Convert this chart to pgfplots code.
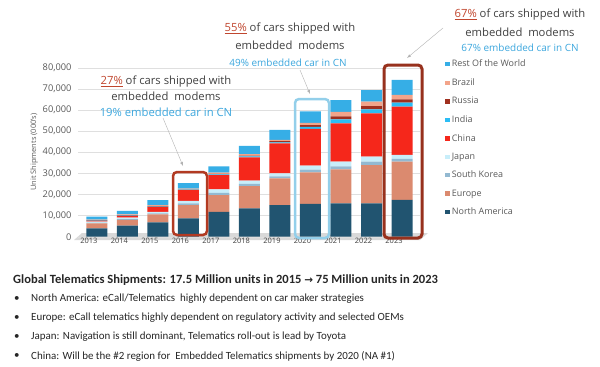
\documentclass[border=0pt]{standalone}
\usepackage{pgfplots}
\usepackage{pgfplotstable}
\pgfplotsset{compat=1.18}
\usepackage{fontspec}
\setmainfont{Open Sans}
\newfontfamily\carlito{Carlito}
\newfontfamily\dejavu{DejaVu Sans}
\definecolor{cNA}{HTML}{215470}
\definecolor{cEU}{HTML}{DB8A6F}
\definecolor{cSK}{HTML}{93B9D1}
\definecolor{cJP}{HTML}{C8EEFA}
\definecolor{cCN}{HTML}{F5271B}
\definecolor{cIN}{HTML}{2BBDF5}
\definecolor{cRU}{HTML}{A0301F}
\definecolor{cBR}{HTML}{F3A48A}
\definecolor{cRW}{HTML}{36AEE6}
\definecolor{cRed}{HTML}{C0462E}
\definecolor{cBoxRed}{HTML}{B23A22}
\definecolor{cBoxBlue}{HTML}{93CFEA}
\definecolor{cBlueTxt}{HTML}{3BA6DD}
\definecolor{cTxt}{HTML}{404040}
\pgfplotstableread{
i NA EU SK JP CN IN RU BR RW
0 4000 2300 300 500 400 100 200 300 1400
1 5200 2800 350 650 800 150 250 400 1600
2 6800 3800 400 800 2200 200 300 500 2300
3 8700 6300 800 1200 5000 250 200 350 2600
4 11800 7900 1100 1600 6800 300 300 500 3000
5 13400 10600 1000 1500 11000 500 400 700 3900
6 15000 12600 1000 1400 14200 500 500 600 4800
7 15500 15000 1300 1900 17400 900 800 1100 5400
8 15800 16100 1400 2200 18100 1900 1500 2100 5500
9 15800 18100 1600 2400 20500 1900 1500 2100 5500
10 17400 18100 1300 1900 22900 1900 1500 2100 7100
}\data
\begin{document}
\begin{tikzpicture}[x=1bp,y=1bp]
\useasboundingbox (0,0) rectangle (600,366);
\fill[gray!30] (74,126) -- (420,126) -- (428,133) -- (82,133) -- cycle;
\begin{axis}[
  at={(78bp,129.3bp)}, anchor=south west, scale only axis,
  width=342bp, height=169bp,
  xmin=-0.62, xmax=10.59, ymin=0, ymax=80000,
  ybar stacked, bar width=21bp,
  axis line style={draw=none}, tick style={draw=none},
  ymajorgrids, grid style={gray!25},
  ytick={0,10000,...,80000}, scaled y ticks=false,
  xtick={0,...,10}, xticklabels={2013,2014,2015,2016,2017,2018,2019,2020,2021,2022,2023},
  xticklabel style={font=\fontsize{7.5}{8}\selectfont, text=cTxt, xshift=-8bp, yshift=2bp},
  yticklabel style={font=\fontsize{9.3}{10}\selectfont, text=gray!70!black, xshift=-3bp},
  /pgf/number format/.cd, 1000 sep={,}, assume math mode=true, /pgfplots/.cd,
  ylabel={Unit Shipments (000's)},
  ylabel style={font=\fontsize{7.5}{8}\selectfont, text=gray!70!black, yshift=-2bp},
  reverse legend,
  legend cell align=left,
  legend image code/.code={\fill[#1] (0bp,-2.2bp) rectangle (4.4bp,2.2bp);},
  legend style={at={(1.065,1.07)}, anchor=north west, draw=none, fill=none,
    font=\fontsize{9}{10}\selectfont, text=gray!70!black, row sep=6.3bp},
]
\addplot[fill=cNA, draw=none] table[x=i,y=NA]{\data};
\addplot[fill=cEU, draw=none] table[x=i,y=EU]{\data};
\addplot[fill=cSK, draw=none] table[x=i,y=SK]{\data};
\addplot[fill=cJP, draw=none] table[x=i,y=JP]{\data};
\addplot[fill=cCN, draw=none] table[x=i,y=CN]{\data};
\addplot[fill=cIN, draw=none] table[x=i,y=IN]{\data};
\addplot[fill=cRU, draw=none] table[x=i,y=RU]{\data};
\addplot[fill=cBR, draw=none] table[x=i,y=BR]{\data};
\addplot[fill=cRW, draw=none] table[x=i,y=RW]{\data};
\legend{North America,Europe,South Korea,Japan,China,India,Russia,Brazil,Rest Of the World}
\end{axis}
% highlight boxes
\draw[cBoxRed, line width=2.5bp, rounded corners=4bp] (173,131) rectangle (207,194);
\draw[cBoxBlue, line width=2.5bp, rounded corners=4bp] (295,128) rectangle (329,267);
\draw[cBoxRed!85!black, line width=3bp, rounded corners=4bp] (384,128) rectangle (422,301);
% arrows
\draw[gray!60, -latex] (163,248) -- (183,200);
\draw[gray!60, -latex] (300,296) -- (310,272);
\draw[gray!60, -latex] (443,338) -- (407,308);
% annotations
\begin{scope}[every node/.style={font=\fontsize{11.3}{13}\selectfont, inner sep=0pt}]
\node[text=cTxt] at (166,284) {{\color{cRed}\underline{27\%}} of cars shipped with};
\node[text=cTxt] at (166,270) {embedded\ \ modems};
\node[text=cBlueTxt] at (166,254) {19\% embedded car in CN};
\node[text=cTxt] at (290,337) {{\color{cRed}\underline{55\%}} of cars shipped with};
\node[text=cTxt] at (290,321) {embedded\ \ modems};
\node[text=cBlueTxt, font=\fontsize{10}{11}\selectfont] at (288,303) {49\% embedded car in CN};
\node[text=cTxt] at (520,351) {{\color{cRed}\underline{67\%}} of cars shipped with};
\node[text=cTxt] at (520,334) {embedded\ \ modems};
\node[text=cBlueTxt, font=\fontsize{10}{11}\selectfont] at (520,318) {67\% embedded car in CN};
\end{scope}
% bottom text
\begin{scope}[every node/.style={anchor=west, inner sep=0pt, text=black!85}]
\node[font=\carlito\bfseries\fontsize{12.6}{14}\selectfont] at (13,86) {Global Telematics Shipments: 17.5 Million units in 2015 {\dejavu\bfseries\fontsize{10.5}{11}\selectfont →} 75 Million units in 2023};
\node[font=\carlito\fontsize{11}{12}\selectfont] at (14,67) {•};
\node[font=\carlito\fontsize{11}{12}\selectfont] at (31,67) {North America: eCall/Telematics\ \ highly dependent on car maker strategies};
\node[font=\carlito\fontsize{11}{12}\selectfont] at (14,48) {•};
\node[font=\carlito\fontsize{11}{12}\selectfont] at (31,48) {Europe: eCall telematics highly dependent on regulatory activity and selected OEMs};
\node[font=\carlito\fontsize{11}{12}\selectfont] at (14,29) {•};
\node[font=\carlito\fontsize{11}{12}\selectfont] at (31,29) {Japan: Navigation is still dominant, Telematics roll-out is lead by Toyota};
\node[font=\carlito\fontsize{11}{12}\selectfont] at (14,10) {•};
\node[font=\carlito\fontsize{11}{12}\selectfont] at (31,10) {China: Will be the \#2 region for\ \ Embedded Telematics shipments by 2020 (NA \#1)};
\end{scope}
\end{tikzpicture}
\end{document}
